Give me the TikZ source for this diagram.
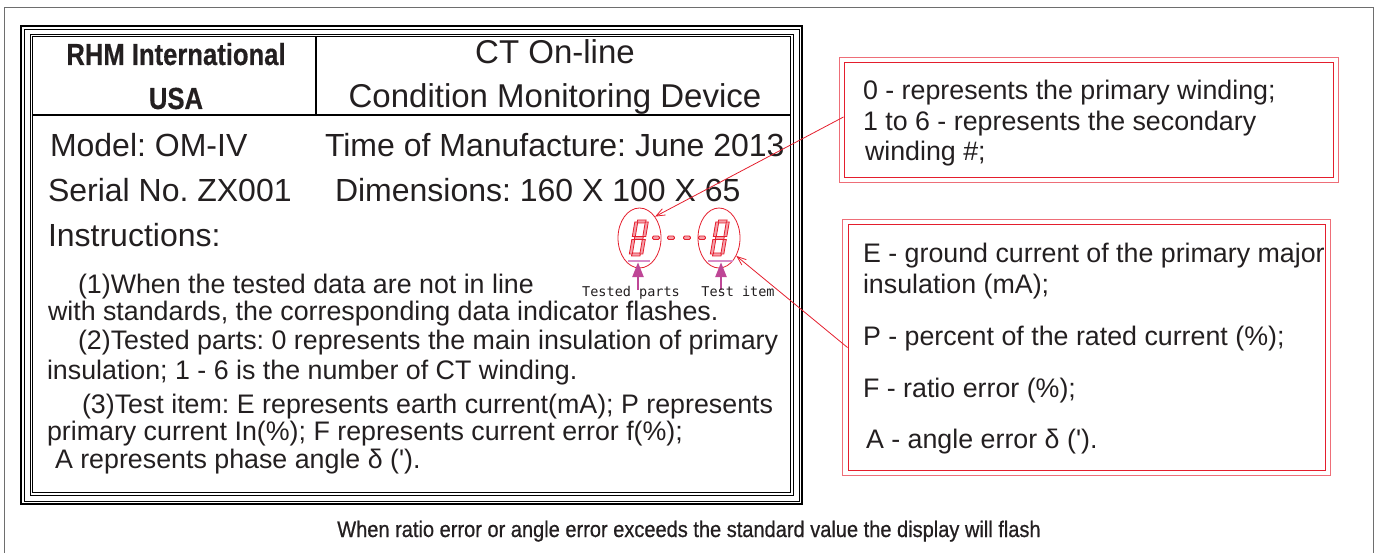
\documentclass[tikz,border=0pt]{standalone}
\usepackage{fontspec}
\setmainfont{Liberation Sans}
\newfontfamily\condfont{Liberation Sans}[FakeStretch=0.89, FakeBold=0.7]
\newfontfamily\condbold{Liberation Sans}[UprightFont=* Bold, FakeStretch=0.84, FakeBold=0.5]
\newfontfamily\labmono{DejaVu Sans Mono}
\usetikzlibrary{arrows.meta,shapes.geometric}
\frenchspacing
\definecolor{lred}{RGB}{228,30,45}
\definecolor{lpink}{RGB}{238,110,120}
\definecolor{segfill}{RGB}{245,160,170}
\definecolor{mag}{RGB}{190,70,150}
\definecolor{magbar}{RGB}{215,140,200}
\definecolor{framegray}{RGB}{110,110,110}
\definecolor{ink}{RGB}{35,31,32}
\tikzset{
  txt/.style={inner sep=0pt, outer sep=0pt, anchor=base west, text=ink},
  big/.style={txt, font=\fontsize{32}{36}\selectfont},
  small/.style={txt, font=\fontsize{26.8}{31}\selectfont},
  redbox/.style={draw=lred, line width=1pt, inner sep=0pt, minimum width=#1},
  seg/.style={fill=segfill, draw=lred, line width=0.8pt},
  leader/.style={draw=lred, line width=0.8pt, -{Straight Barb[length=9pt,width=7pt]}},
  magarrow/.style={draw=mag, line width=2.6pt, -{Triangle[length=15pt,width=11pt]}},
  dispell/.style={ellipse, draw=lred, line width=0.8pt, inner sep=0pt},
}
\newcommand{\digitsegs}{%
  \filldraw[seg] (2.5,-36) rectangle (11,-33);
  \filldraw[seg] (2.5,-19.5) rectangle (11,-16.5);
  \filldraw[seg] (2.5,-3) rectangle (11,0);
  \filldraw[seg] (0,-34) rectangle (3,-19.5);
  \filldraw[seg] (10.5,-34) rectangle (13.5,-19.5);
  \filldraw[seg] (0,-16.5) rectangle (3,-2);
  \filldraw[seg] (10.5,-16.5) rectangle (13.5,-2);
}
\begin{document}
\begin{tikzpicture}[x=1pt,y=-1pt]
\useasboundingbox (0,0) rectangle (1378,553);
% outer gray frame
\draw[framegray, line width=1pt] (4.5,553) -- (4.5,7.5) -- (1373.5,7.5) -- (1373.5,553);
% black label frames
\draw[line width=1.8pt] (21,26) rectangle (802,504);
\draw[line width=0.8pt] (24,29) rectangle (799,501);
\draw[line width=0.8pt] (30,34) rectangle (793,495);
\draw[line width=1.4pt] (32.5,36.5) rectangle (790.5,492.5);
\draw[line width=1.4pt] (32.5,115) -- (790.5,115);
\draw[line width=1.4pt] (316,36.5) -- (316,115);
% header
\node[txt, anchor=base, font=\condbold\fontsize{30.5}{34}\selectfont] (rhm) at (176,65) {RHM International};
\node[txt, anchor=base, font=\condbold\fontsize{30.5}{34}\selectfont] (usa) at (176,109) {USA};
\node[txt, anchor=base, font=\fontsize{33}{36}\selectfont] (ct) at (555,64) {CT On-line};
\node[txt, anchor=base, font=\fontsize{33}{36}\selectfont] (cmd) at (555,108) {Condition Monitoring Device};
% large lines
\node[big] (model) at (50,157) {Model: OM-IV};
\node[big] (time) at (325,157) {Time of Manufacture: June 2013};
\node[big] (serial) at (48,202) {Serial No. ZX001};
\node[big] (dim) at (335,202) {Dimensions: 160 X 100 X 65};
\node[big] (instr) at (48,247) {Instructions:};
% small lines
\node[small] (l1) at (78,293) {(1)When the tested data are not in line};
\node[small] (l2) at (48,320) {with standards, the corresponding data indicator flashes.};
\node[small] (l3) at (78,349) {(2)Tested parts: 0 represents the main insulation of primary};
\node[small] (l4) at (47,379) {insulation; 1 - 6 is the number of CT winding.};
\node[small] (l5) at (82,413) {(3)Test item: E represents earth current(mA); P represents};
\node[small] (l6) at (47,440) {primary current In(\%); F represents current error f(\%);};
\node[small] (l7) at (55,468) {A represents phase angle δ (\textquotesingle).};
% display
\node[dispell, minimum width=43pt, minimum height=60pt] (e1) at (639.5,238) {};
\node[dispell, minimum width=42pt, minimum height=60pt] (e2) at (719,238) {};
\begin{scope}[shift={(629,256)}, xslant=0.17]
  \digitsegs
\end{scope}
\begin{scope}[shift={(710,256)}, xslant=0.17]
  \digitsegs
\end{scope}
\foreach \xx in {656,671,687,702}{
  \filldraw[seg, rounded corners=1.2pt] (\xx-3.5,236) rectangle (\xx+3.5,239.5);
}
\node[fill=magbar, inner sep=0pt, minimum width=22pt, minimum height=2pt] (bar1) at (639,261) {};
\node[fill=magbar, inner sep=0pt, minimum width=25pt, minimum height=2pt] (bar2) at (720.5,261) {};
\coordinate (a1s) at (638,290);
\coordinate (a2s) at (721,290);
\draw[magarrow] (a1s) -- (a1s |- bar1.south);
\draw[magarrow] (a2s) -- (a2s |- bar2.south);
\node[txt, anchor=base, font=\labmono\fontsize{13.5}{15}\selectfont] (tp) at (631,297) {Tested parts};
\node[txt, anchor=base, font=\labmono\fontsize{13.5}{15}\selectfont] (ti) at (738,297) {Test item};
% red boxes
\node[redbox=489pt, minimum height=115pt] (box1) at (1088.5,120.5) {};
\draw[lpink, line width=1pt] ([shift={(-4.5,-5)}]box1.north west) rectangle ([shift={(4.5,4.5)}]box1.south east);
\node[redbox=477pt, minimum height=245pt] (box2) at (1086.5,347.5) {};
\draw[lpink, line width=1pt] ([shift={(-5,-5)}]box2.north west) rectangle ([shift={(5,5)}]box2.south east);
\node[small] (b1l1) at (863,100) {0 - represents the primary winding;};
\node[small] (b1l2) at (863,131) {1 to 6 - represents the secondary};
\node[small] (b1l3) at (865,161) {winding \#;};
\node[small] (b2l1) at (863,262) {E - ground current of the primary major};
\node[small] (b2l2) at (863,294) {insulation (mA);};
\node[small] (b2l3) at (863,345) {P - percent of the rated current (\%);};
\node[small] (b2l4) at (863,397) {F - ratio error (\%);};
\node[small] (b2l5) at (866,448) {A - angle error δ (\textquotesingle).};
% leaders
\draw[leader] ([yshift=3.5pt]box1.west) -- (e1.54);
\draw[leader] (box2.west) -- (e2.-46);
% footer
\node[txt, anchor=base, font=\condfont\fontsize{22.5}{25}\selectfont] (foot) at (689,537) {When ratio error or angle error exceeds the standard value the display will flash};
\end{tikzpicture}
\end{document}
